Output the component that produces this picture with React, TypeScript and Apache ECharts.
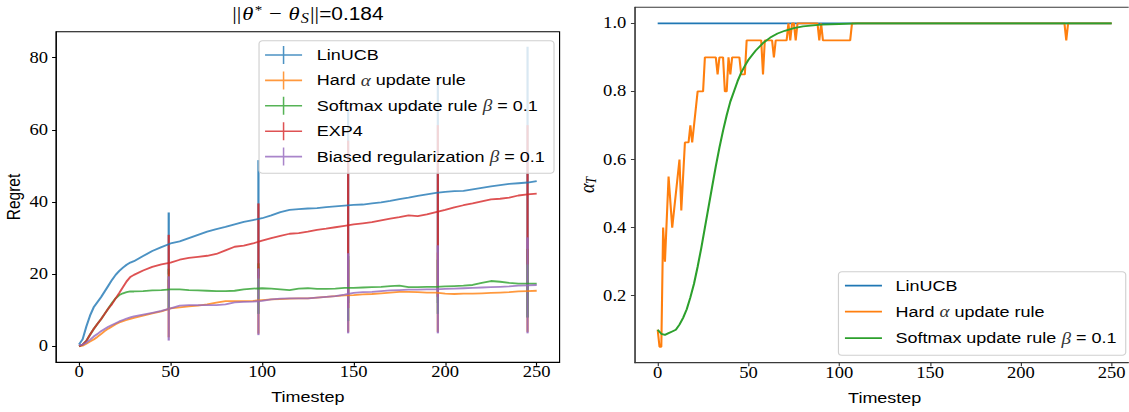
import React, { useEffect, useRef } from "react";
import * as echarts from "echarts";

// ---------------- data ----------------
const regretTimesteps = [0, 2, 4, 6, 8, 10, 12, 14, 16, 18, 20, 22, 24, 26, 28, 30, 35, 40, 45, 50, 55, 60, 65, 70, 75, 80, 85, 90, 95, 100, 105, 110, 115, 120, 125, 130, 135, 140, 145, 150, 155, 160, 165, 170, 175, 180, 185, 190, 195, 200, 205, 210, 215, 220, 225, 230, 235, 240, 245, 250];

const linucbRegret = [0.5, 2.0, 5.5, 8.5, 10.8, 12.2, 13.6, 15.2, 16.8, 18.4, 19.8, 20.9, 21.8, 22.6, 23.2, 23.6, 25.0, 26.4, 27.5, 28.5, 29.1, 30.0, 30.9, 31.8, 32.5, 33.1, 33.8, 34.5, 35.0, 35.5, 36.3, 37.2, 37.8, 38.0, 38.2, 38.3, 38.6, 38.8, 39.0, 39.2, 39.3, 39.6, 39.9, 40.3, 40.8, 41.2, 41.7, 42.1, 42.5, 42.8, 43.0, 43.1, 43.5, 43.9, 44.3, 44.7, 45.0, 45.2, 45.4, 45.8];
const hardRegret = [0, 0.2, 0.7, 1.3, 1.9, 2.6, 3.4, 4.2, 4.9, 5.5, 6.1, 6.6, 7.0, 7.3, 7.6, 7.9, 8.5, 9.1, 9.7, 10.5, 10.8, 11.1, 11.3, 11.6, 12.1, 12.5, 12.5, 12.5, 12.6, 12.8, 13.0, 13.1, 13.2, 13.3, 13.3, 13.5, 13.7, 13.9, 14.1, 14.2, 14.4, 14.5, 14.7, 14.9, 15.1, 15.1, 15.0, 14.9, 14.9, 14.6, 14.5, 14.6, 14.6, 14.7, 14.8, 14.9, 15.0, 15.2, 15.3, 15.4];
const softmaxRegret = [0, 0.5, 1.5, 3.2, 4.8, 6.2, 7.5, 9.0, 10.5, 12.0, 13.3, 14.2, 14.7, 15.0, 15.2, 15.2, 15.3, 15.5, 15.6, 15.8, 15.8, 15.6, 15.5, 15.4, 15.3, 15.3, 15.4, 15.8, 16.0, 16.1, 16.0, 15.8, 15.6, 16.0, 16.1, 15.9, 15.9, 16.0, 16.2, 16.2, 16.3, 16.4, 16.5, 16.7, 16.8, 16.4, 16.4, 16.5, 16.5, 16.6, 16.7, 16.8, 17.0, 17.6, 18.1, 17.9, 17.6, 17.4, 17.4, 17.4];
const exp4Regret = [0, 0.5, 1.5, 3.2, 4.8, 6.2, 7.5, 9.0, 10.5, 11.7, 13.3, 14.8, 16.4, 18.0, 19.2, 19.8, 21.0, 22.0, 22.7, 23.2, 24.0, 24.5, 24.8, 25.1, 25.6, 26.6, 27.6, 27.9, 28.5, 29.3, 30.0, 30.6, 31.2, 31.4, 31.8, 32.3, 32.6, 33.0, 33.4, 33.8, 34.1, 34.4, 34.9, 35.4, 35.8, 36.3, 36.1, 36.6, 37.2, 37.8, 38.5, 39.1, 39.6, 40.2, 40.7, 40.9, 41.2, 41.8, 42.1, 42.3];
const biasedRegret = [0.3, 0.5, 1.0, 1.8, 2.7, 3.4, 4.2, 4.8, 5.4, 5.9, 6.4, 6.9, 7.3, 7.7, 8.0, 8.3, 8.8, 9.3, 9.8, 10.5, 11.3, 11.4, 11.4, 11.4, 11.4, 11.6, 12.2, 12.3, 12.4, 12.6, 13.0, 13.2, 13.3, 13.3, 13.3, 13.5, 13.7, 13.9, 14.3, 14.8, 15.0, 15.1, 15.3, 15.5, 15.6, 15.7, 15.7, 15.8, 15.8, 15.9, 16.0, 16.1, 16.2, 16.3, 16.4, 16.5, 16.6, 16.8, 16.9, 17.0];

const errTimesteps = [49, 98, 147, 196, 245];
const linucbErrLow = [19.9, 19.4, 12.0, 12.0, 8.0];
const linucbErrHigh = [37.1, 51.6, 66.0, 73.3, 83.0];
const hardErrLow = [2.5, 3.5, 4.0, 4.0, 4.0];
const hardErrHigh = [18.5, 22.0, 24.0, 26.0, 27.0];
const softmaxErrLow = [10.0, 9.0, 7.0, 9.0, 8.0];
const softmaxErrHigh = [21.5, 23.0, 25.0, 24.0, 27.0];
const exp4ErrLow = [15.5, 18.8, 10.6, 13.7, 22.7];
const exp4ErrHigh = [30.9, 39.6, 57.0, 61.3, 61.3];
const biasedErrLow = [1.6, 3.1, 3.6, 3.6, 3.6];
const biasedErrHigh = [19.4, 21.6, 25.8, 28.0, 30.2];

// alpha_T panel
const linucbAlphaT = [0, 250];
const linucbAlpha = [1.0, 1.0];
const hardAlphaT = [0, 1, 2, 3, 4, 6, 8, 12, 13, 15, 17, 18, 19, 22, 25, 26, 32, 33, 34, 36, 37, 38, 39, 40, 41, 45, 46, 48, 49, 57, 58, 59, 63, 64, 65, 71, 72, 73, 74, 75, 76, 77, 88, 89, 90, 91, 106, 107, 224, 225, 226, 250];
const hardAlpha = [0.1, 0.05, 0.05, 0.4, 0.3, 0.55, 0.4, 0.6, 0.45, 0.65, 0.65, 0.7, 0.65, 0.8, 0.8, 0.9, 0.9, 0.85, 0.9, 0.9, 0.8, 0.8, 0.9, 0.85, 0.9, 0.9, 0.85, 0.85, 0.95, 0.95, 0.85, 0.95, 0.95, 0.9, 0.95, 0.95, 1.0, 0.95, 1.0, 1.0, 0.95, 1.0, 1.0, 0.95, 1.0, 0.95, 0.95, 1.0, 1.0, 0.95, 1.0, 1.0];
const softmaxAlphaT = [0, 2, 4, 6, 8, 10, 12, 14, 16, 18, 20, 22, 24, 26, 28, 30, 32, 34, 36, 38, 40, 42, 44, 46, 48, 50, 54, 58, 62, 66, 70, 75, 80, 90, 100, 110, 150, 200, 250];
const softmaxAlpha = [0.1, 0.088, 0.085, 0.09, 0.095, 0.1, 0.115, 0.135, 0.16, 0.195, 0.235, 0.285, 0.34, 0.4, 0.46, 0.52, 0.58, 0.635, 0.685, 0.73, 0.77, 0.8, 0.83, 0.855, 0.875, 0.893, 0.92, 0.942, 0.958, 0.97, 0.978, 0.986, 0.991, 0.996, 0.998, 1.0, 1.0, 1.0, 1.0];

const xTicks = [0, 50, 100, 150, 200, 250];
const regretTicks = [0, 20, 40, 60, 80];
const alphaTicks = [0.2, 0.4, 0.6, 0.8, 1.0];

const seriesNames = [
  "LinUCB",
  "Hard α update rule",
  "Softmax update rule β = 0.1",
  "EXP4",
  "Biased regularization β = 0.1",
];

// ---------------- layout / style ----------------
const STRETCH = 1.16;
const FULL_W = 1129;
const FULL_H = 412;
const CHART_W = FULL_W / STRETCH;

const BLUE = "#1f77b4";
const ORANGE = "#ff7f0e";
const GREEN = "#2ca02c";
const RED = "#d62728";
const PURPLE = "#9467bd";

const SANS = "Liberation Sans";
const SERIF = "Liberation Serif";

const pairs = (xs: number[], ys: number[]) => xs.map((x, i) => [x, ys[i]]);
const errData = (lo: number[], hi: number[]) =>
  errTimesteps.map((t, i) => [t, lo[i], hi[i]]);

const regretGroups = [
  { name: seriesNames[0], values: linucbRegret, lo: linucbErrLow, hi: linucbErrHigh, color: BLUE },
  { name: seriesNames[1], values: hardRegret, lo: hardErrLow, hi: hardErrHigh, color: ORANGE },
  { name: seriesNames[2], values: softmaxRegret, lo: softmaxErrLow, hi: softmaxErrHigh, color: GREEN },
  { name: seriesNames[3], values: exp4Regret, lo: exp4ErrLow, hi: exp4ErrHigh, color: RED },
  { name: seriesNames[4], values: biasedRegret, lo: biasedErrLow, hi: biasedErrHigh, color: PURPLE },
];

const alphaGroups = [
  { name: seriesNames[0], data: pairs(linucbAlphaT, linucbAlpha), color: BLUE },
  { name: seriesNames[1], data: pairs(hardAlphaT, hardAlpha), color: ORANGE },
  { name: seriesNames[2], data: pairs(softmaxAlphaT, softmaxAlpha), color: GREEN },
];

const ERR_ICON =
  "path://M0,8.2L31.9,8.2L31.9,9.8L0,9.8Z M15.3,0L16.6,0L16.6,18L15.3,18Z M39.55,17.95L39.6,17.95L39.6,18L39.55,18Z M0,0L0.05,0L0.05,0.05L0,0.05Z";
const LINE_ICON =
  "path://M0,0L0.05,0L0.05,0.05L0,0.05Z M0,6.1L31.9,6.1L31.9,7.9L0,7.9Z M38.55,13.95L38.6,13.95L38.6,14L38.55,14Z";

const legendFormatter = (name: string) => name.replace(/([αβ])/g, "{g|$1}");
const legendText = {
  fontFamily: SANS,
  fontSize: 15.5,
  color: "#000",
  lineHeight: 16,
  rich: {
    g: { fontFamily: SERIF, fontStyle: "italic", fontSize: 16.5, lineHeight: 16, color: "#333" },
  },
};

function axisCommon(color: string, ticks: number[], fmt: (v: number) => string, margin: number) {
  return {
    axisLine: { show: true, onZero: false, lineStyle: { color, width: 1 } },
    axisTick: { show: true, inside: false, length: 3.5, customValues: ticks, lineStyle: { color, width: 1 } },
    axisLabel: {
      show: true,
      customValues: ticks,
      formatter: fmt,
      fontFamily: SERIF,
      fontSize: 16,
      color: "#000",
      margin,
    },
    splitLine: { show: false },
  };
}

function buildOption() {
  const series: any[] = [];
  regretGroups.forEach((g) => {
    series.push({
      type: "line",
      name: g.name,
      xAxisIndex: 0,
      yAxisIndex: 0,
      data: pairs(regretTimesteps, g.values),
      showSymbol: false,
      symbol: "none",
      lineStyle: { color: g.color, width: 1.8, opacity: 0.8 },
      itemStyle: { color: g.color },
      emphasis: { disabled: true },
    });
    series.push({
      type: "custom",
      name: g.name + " (error)",
      xAxisIndex: 0,
      yAxisIndex: 0,
      data: errData(g.lo, g.hi),
      encode: { x: 0, y: [1, 2] },
      renderItem: (_params: any, api: any) => {
        const top = api.coord([api.value(0), api.value(2)]);
        const bottom = api.coord([api.value(0), api.value(1)]);
        return {
          type: "line",
          shape: { x1: top[0], y1: top[1], x2: bottom[0], y2: bottom[1] },
          style: { stroke: g.color, lineWidth: 1.9, opacity: 0.85 },
        };
      },
    });
  });
  alphaGroups.forEach((g) => {
    series.push({
      type: "line",
      name: g.name,
      xAxisIndex: 1,
      yAxisIndex: 1,
      data: g.data,
      showSymbol: false,
      symbol: "none",
      lineStyle: { color: g.color, width: 1.8 },
      itemStyle: { color: g.color },
      emphasis: { disabled: true },
    });
  });

  const leftColor = "#000";
  const rightColor = "#3a3a3a";

  return {
    animation: false,
    backgroundColor: "#fff",
    textStyle: { fontFamily: SANS },
    grid: [
      { left: 48.4, top: 31.7, width: 434.0, height: 330.6, show: true, borderColor: leftColor, borderWidth: 1, backgroundColor: "transparent", containLabel: false, outerBoundsMode: "none" },
      { left: 547.4, top: 7.3, width: 430.5, height: 355.4, show: true, borderColor: rightColor, borderWidth: 1, backgroundColor: "transparent", containLabel: false, outerBoundsMode: "none" },
    ],
    xAxis: [
      {
        type: "value", gridIndex: 0, min: -12.5, max: 262.5,
        name: "Timestep", nameLocation: "middle", nameGap: 27,
        nameTextStyle: { fontFamily: SANS, fontSize: 15.5, color: "#000" },
        ...axisCommon(leftColor, xTicks, (v: number) => String(v), 2),
      },
      {
        type: "value", gridIndex: 1, min: -12.5, max: 262.5,
        name: "Timestep", nameLocation: "middle", nameGap: 27,
        nameTextStyle: { fontFamily: SANS, fontSize: 15.5, color: "#000" },
        ...axisCommon(rightColor, xTicks, (v: number) => String(v), 2),
      },
    ],
    yAxis: [
      {
        type: "value", gridIndex: 0, min: -4.43, max: 87.2,
        name: "Regret", nameLocation: "middle", nameGap: 28,
        nameTextStyle: { fontFamily: SANS, fontSize: 15.5, color: "#000" },
        ...axisCommon(leftColor, regretTicks, (v: number) => String(v), 7),
      },
      {
        type: "value", gridIndex: 1, min: 0.0032, max: 1.047,
        name: "{a|α}{s|T}", nameLocation: "middle", nameGap: 30,
        nameTextStyle: {
          color: "#000",
          rich: {
            a: { fontFamily: SERIF, fontStyle: "italic", fontSize: 18, color: "#000", lineHeight: 20 },
            s: { fontFamily: SERIF, fontStyle: "italic", fontSize: 12, color: "#000", lineHeight: 20, verticalAlign: "bottom", padding: [6, 0, 0, 0] },
          },
        },
        ...axisCommon(rightColor, alphaTicks, (v: number) => v.toFixed(1), 7.5),
      },
    ],
    legend: [
      {
        orient: "vertical",
        left: 223.3,
        top: 40.7,
        selectedMode: false,
        data: regretGroups.map((g) => ({ name: g.name, icon: ERR_ICON, itemStyle: { color: g.color, opacity: 0.8, borderWidth: 0 } })),
        itemWidth: 39.6,
        itemHeight: 18,
        itemGap: 7.4,
        padding: [5.3, 8, 7.6, 5.2],
        backgroundColor: "rgba(255,255,255,0.8)",
        borderColor: "#d0d0d0",
        borderWidth: 1,
        borderRadius: 3,
        itemStyle: { borderWidth: 0 },
        formatter: legendFormatter,
        textStyle: legendText,
      },
      {
        orient: "vertical",
        left: 722.8,
        top: 271.7,
        selectedMode: false,
        data: alphaGroups.map((g) => ({ name: g.name, icon: LINE_ICON, itemStyle: { color: g.color, opacity: 1, borderWidth: 0 } })),
        itemWidth: 38.6,
        itemHeight: 14,
        itemGap: 9.5,
        padding: [6, 8, 8.6, 5.6],
        backgroundColor: "rgba(255,255,255,0.8)",
        borderColor: "#d0d0d0",
        borderWidth: 1,
        borderRadius: 3,
        itemStyle: { borderWidth: 0 },
        formatter: legendFormatter,
        textStyle: legendText,
      },
    ],
    graphic: [
      {
        type: "text",
        x: 265.4,
        y: 14,
        style: {
          text: "{m|||}{i|θ}{sup|*}{m| − }{i|θ}{sub|S}{m|||}{t|=0.184}",
          align: "center",
          verticalAlign: "middle",
          rich: {
            m: { fontFamily: SERIF, fontSize: 19.5, lineHeight: 22, fill: "#000" },
            i: { fontFamily: SERIF, fontStyle: "italic", fontSize: 19.5, lineHeight: 22, fill: "#000", padding: [0, 1, 0, 1] },
            sup: { fontFamily: SERIF, fontSize: 13, lineHeight: 13, fill: "#000", verticalAlign: "top", padding: [0, 1, 0, 0] },
            sub: { fontFamily: SERIF, fontStyle: "italic", fontSize: 14, lineHeight: 14, fill: "#000", verticalAlign: "bottom", padding: [0, 1, 0, 0] },
            t: { fontFamily: SANS, fontSize: 18, lineHeight: 22, fill: "#000" },
          },
        },
      },
    ],
    series,
  };
}

export default function App() {
  const ref = useRef<HTMLDivElement>(null);
  useEffect(() => {
    if (!ref.current) return;
    const chart = echarts.init(ref.current, undefined, { renderer: "svg" });
    chart.setOption(buildOption() as any);
    return () => chart.dispose();
  }, []);
  return (
    <div
      style={{
        position: "fixed",
        left: 0,
        top: 0,
        width: FULL_W,
        height: FULL_H,
        overflow: "hidden",
        background: "#fff",
      }}
    >
      <div
        ref={ref}
        style={{
          width: CHART_W,
          height: FULL_H,
          transform: `scaleX(${STRETCH})`,
          transformOrigin: "0 0",
        }}
      />
    </div>
  );
}
